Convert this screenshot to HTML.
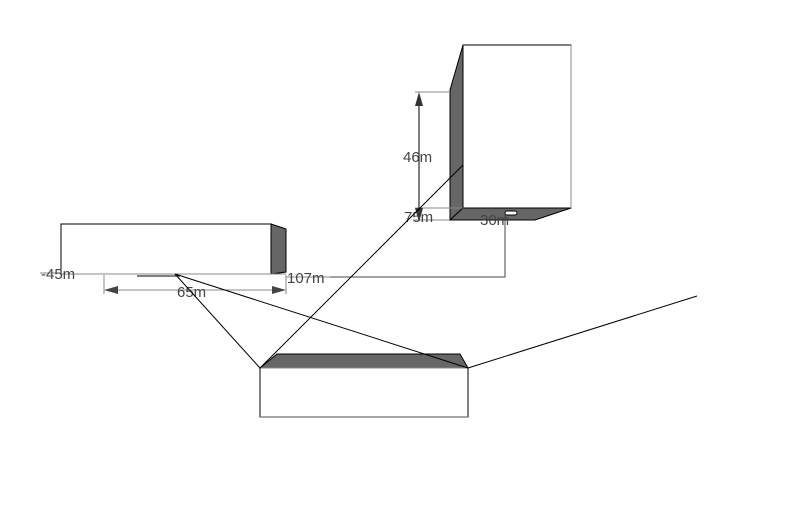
<!DOCTYPE html>
<html><head><meta charset="utf-8"><style>body{margin:0;background:#fff}svg{display:block}text{font-family:"Liberation Sans",sans-serif;font-size:15px;fill:#444}</style></head><body>
<svg width="800" height="525" viewBox="0 0 800 525">
<polygon points="463,45 450,90 450,220 463,208" fill="#666" stroke="#000"/>
<polygon points="450,220 463,208 571,208 535,220" fill="#666" stroke="#000"/>
<rect x="463" y="45" width="108" height="163" fill="#fff" stroke="#000"/>
<line x1="571" y1="45" x2="571" y2="208" stroke="#888"/>
<rect x="505" y="211" width="12" height="4" rx="2" fill="#fff" stroke="#000"/>
<g stroke="#888"><line x1="415" y1="92" x2="450" y2="92"/><line x1="415" y1="208" x2="463" y2="208"/><line x1="415" y1="220" x2="450" y2="220"/></g>
<line x1="419" y1="100" x2="419" y2="208" stroke="#000"/>
<polygon points="419,92 415,106 423,106" fill="#333"/>
<polygon points="419,222 415,208 423,208" fill="#333"/>
<text x="403" y="162">46m</text>
<text x="404" y="222">75m</text>
<text x="480" y="225">30m</text>
<polyline points="505,215 505,277 330,277" fill="none" stroke="#444"/>
<line x1="286" y1="277" x2="330" y2="277" stroke="#888"/>
<text x="287" y="283">107m</text>
<polygon points="271,224 286,229 286,272 271,274" fill="#666" stroke="#000"/>
<rect x="61" y="224" width="210" height="50" fill="#fff" stroke="#000"/>
<line x1="61" y1="274" x2="286" y2="274" stroke="#888"/>
<line x1="137" y1="276" x2="180" y2="276" stroke="#000"/>
<line x1="40" y1="273" x2="61" y2="273" stroke="#888"/>
<text x="41" y="279">-45m</text>
<g stroke="#888"><line x1="104" y1="275" x2="104" y2="294"/><line x1="286" y1="275" x2="286" y2="294"/><line x1="112" y1="290" x2="278" y2="290"/></g>
<polygon points="104,290 118,286 118,294" fill="#444"/>
<polygon points="286,290 272,286 272,294" fill="#444"/>
<text x="177" y="297">65m</text>
<polygon points="260,368 277,354 460,354 468,368" fill="#666" stroke="#000"/>
<rect x="260" y="368" width="208" height="49" fill="#fff" stroke="#000"/>
<line x1="260" y1="368" x2="468" y2="368" stroke="#888"/>
<line x1="260" y1="417" x2="468" y2="417" stroke="#888" stroke-width="1.5"/>
<g stroke="#000" fill="none">
<line x1="175" y1="274" x2="260" y2="368"/>
<line x1="175" y1="274" x2="468" y2="368"/>
<line x1="260" y1="368" x2="463" y2="165"/>
<line x1="468" y1="368" x2="697" y2="296"/>
</g>
</svg>
</body></html>
